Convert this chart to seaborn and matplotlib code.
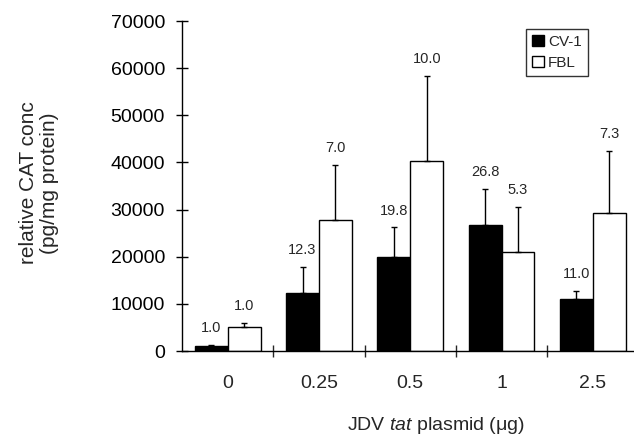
import numpy as np
import pandas as pd
import matplotlib
matplotlib.use('Agg')
import matplotlib.pyplot as plt
from matplotlib.patches import Patch
from matplotlib.ticker import FixedLocator
import seaborn as sns

# values
doses = ['0', '0.25', '0.5', '1', '2.5']
cv1 = [1000, 12400, 19900, 26800, 11100]
cv1_err = [300, 5500, 6300, 7600, 1600]
fbl = [5100, 27800, 40200, 21100, 29200]
fbl_err = [900, 11700, 18100, 9400, 13300]
cv1_fold = ['1.0', '12.3', '19.8', '26.8', '11.0']
fbl_fold = ['1.0', '7.0', '10.0', '5.3', '7.3']
yticks = [0, 10000, 20000, 30000, 40000, 50000, 60000, 70000]

df = pd.DataFrame({
    'dose': doses * 2,
    'cell': ['CV-1'] * 5 + ['FBL'] * 5,
    'conc': cv1 + fbl,
})

sns.set_style('ticks')
plt.rcParams['font.family'] = ['Liberation Sans', 'DejaVu Sans']
plt.rcParams['mathtext.fontset'] = 'custom'
plt.rcParams['mathtext.rm'] = 'Liberation Sans'
plt.rcParams['mathtext.it'] = 'Liberation Sans:italic'

fig = plt.figure(figsize=(6.34, 4.37), dpi=100)
ax = fig.add_axes([182 / 634, 86 / 437, 452 / 634, 330 / 437])

sns.barplot(data=df, x='dose', y='conc', hue='cell', order=doses,
            hue_order=['CV-1', 'FBL'], palette={'CV-1': 'black', 'FBL': 'white'},
            edgecolor='black', linewidth=1, errorbar=None, width=0.72, gap=0,
            legend=False, ax=ax)

# upward-only error bars + fold labels
for cont, errs, folds in zip(ax.containers, [cv1_err, fbl_err], [cv1_fold, fbl_fold]):
    xs = [p.get_x() + p.get_width() / 2 for p in cont.patches]
    hs = [p.get_height() for p in cont.patches]
    ax.errorbar(xs, hs, yerr=[np.zeros(len(errs)), errs], fmt='none',
                ecolor='black', elinewidth=1, capsize=2.2, capthick=1, zorder=1)
    for x, h, e, t in zip(xs, hs, errs, folds):
        ax.annotate(t, (x, h + e), xytext=(0, 7), textcoords='offset points',
                    ha='center', va='bottom', fontsize=10.5)

ax.set_xlim(-0.5, 4.45)
ax.set_ylim(0, 70000)
ax.set_yticks(yticks)
ax.set_yticklabels([str(v) for v in yticks])
ax.tick_params(axis='y', direction='inout', length=8, width=1, pad=8.2,
               labelsize=14, colors='black')
ax.tick_params(axis='x', which='major', length=0, pad=17, labelsize=14)
ax.xaxis.set_minor_locator(FixedLocator([0.5, 1.5, 2.5, 3.5]))
ax.tick_params(axis='x', which='minor', direction='inout', length=9, width=1)

sns.despine(ax=ax)
for s in ['left', 'bottom']:
    ax.spines[s].set_linewidth(1)
    ax.spines[s].set_color('black')

ax.set_ylabel('relative CAT conc\n(pg/mg protein)', fontsize=15, va='center',
              linespacing=1.15)
ax.yaxis.set_label_coords((39 - 182) / 452, (351 - 183) / 330)
ax.set_xlabel('JDV $\\mathit{tat}$ plasmid (μg)', fontsize=14, va='center')
ax.xaxis.set_label_coords((436 - 182) / 452, (351 - 425) / 330)

handles = [Patch(facecolor='black', edgecolor='black', label='CV-1'),
           Patch(facecolor='white', edgecolor='black', label='FBL')]
leg = fig.legend(handles=handles, loc='upper left',
                 bbox_to_anchor=(526 / 634, 1 - 29 / 437), borderaxespad=0,
                 fontsize=11, frameon=True, fancybox=False, handlelength=0.75,
                 handleheight=0.75, handletextpad=0.3, borderpad=0.4,
                 labelspacing=0.45)
leg.get_frame().set_edgecolor('black')
leg.get_frame().set_linewidth(1)

fig.savefig('out.png', dpi=100)
